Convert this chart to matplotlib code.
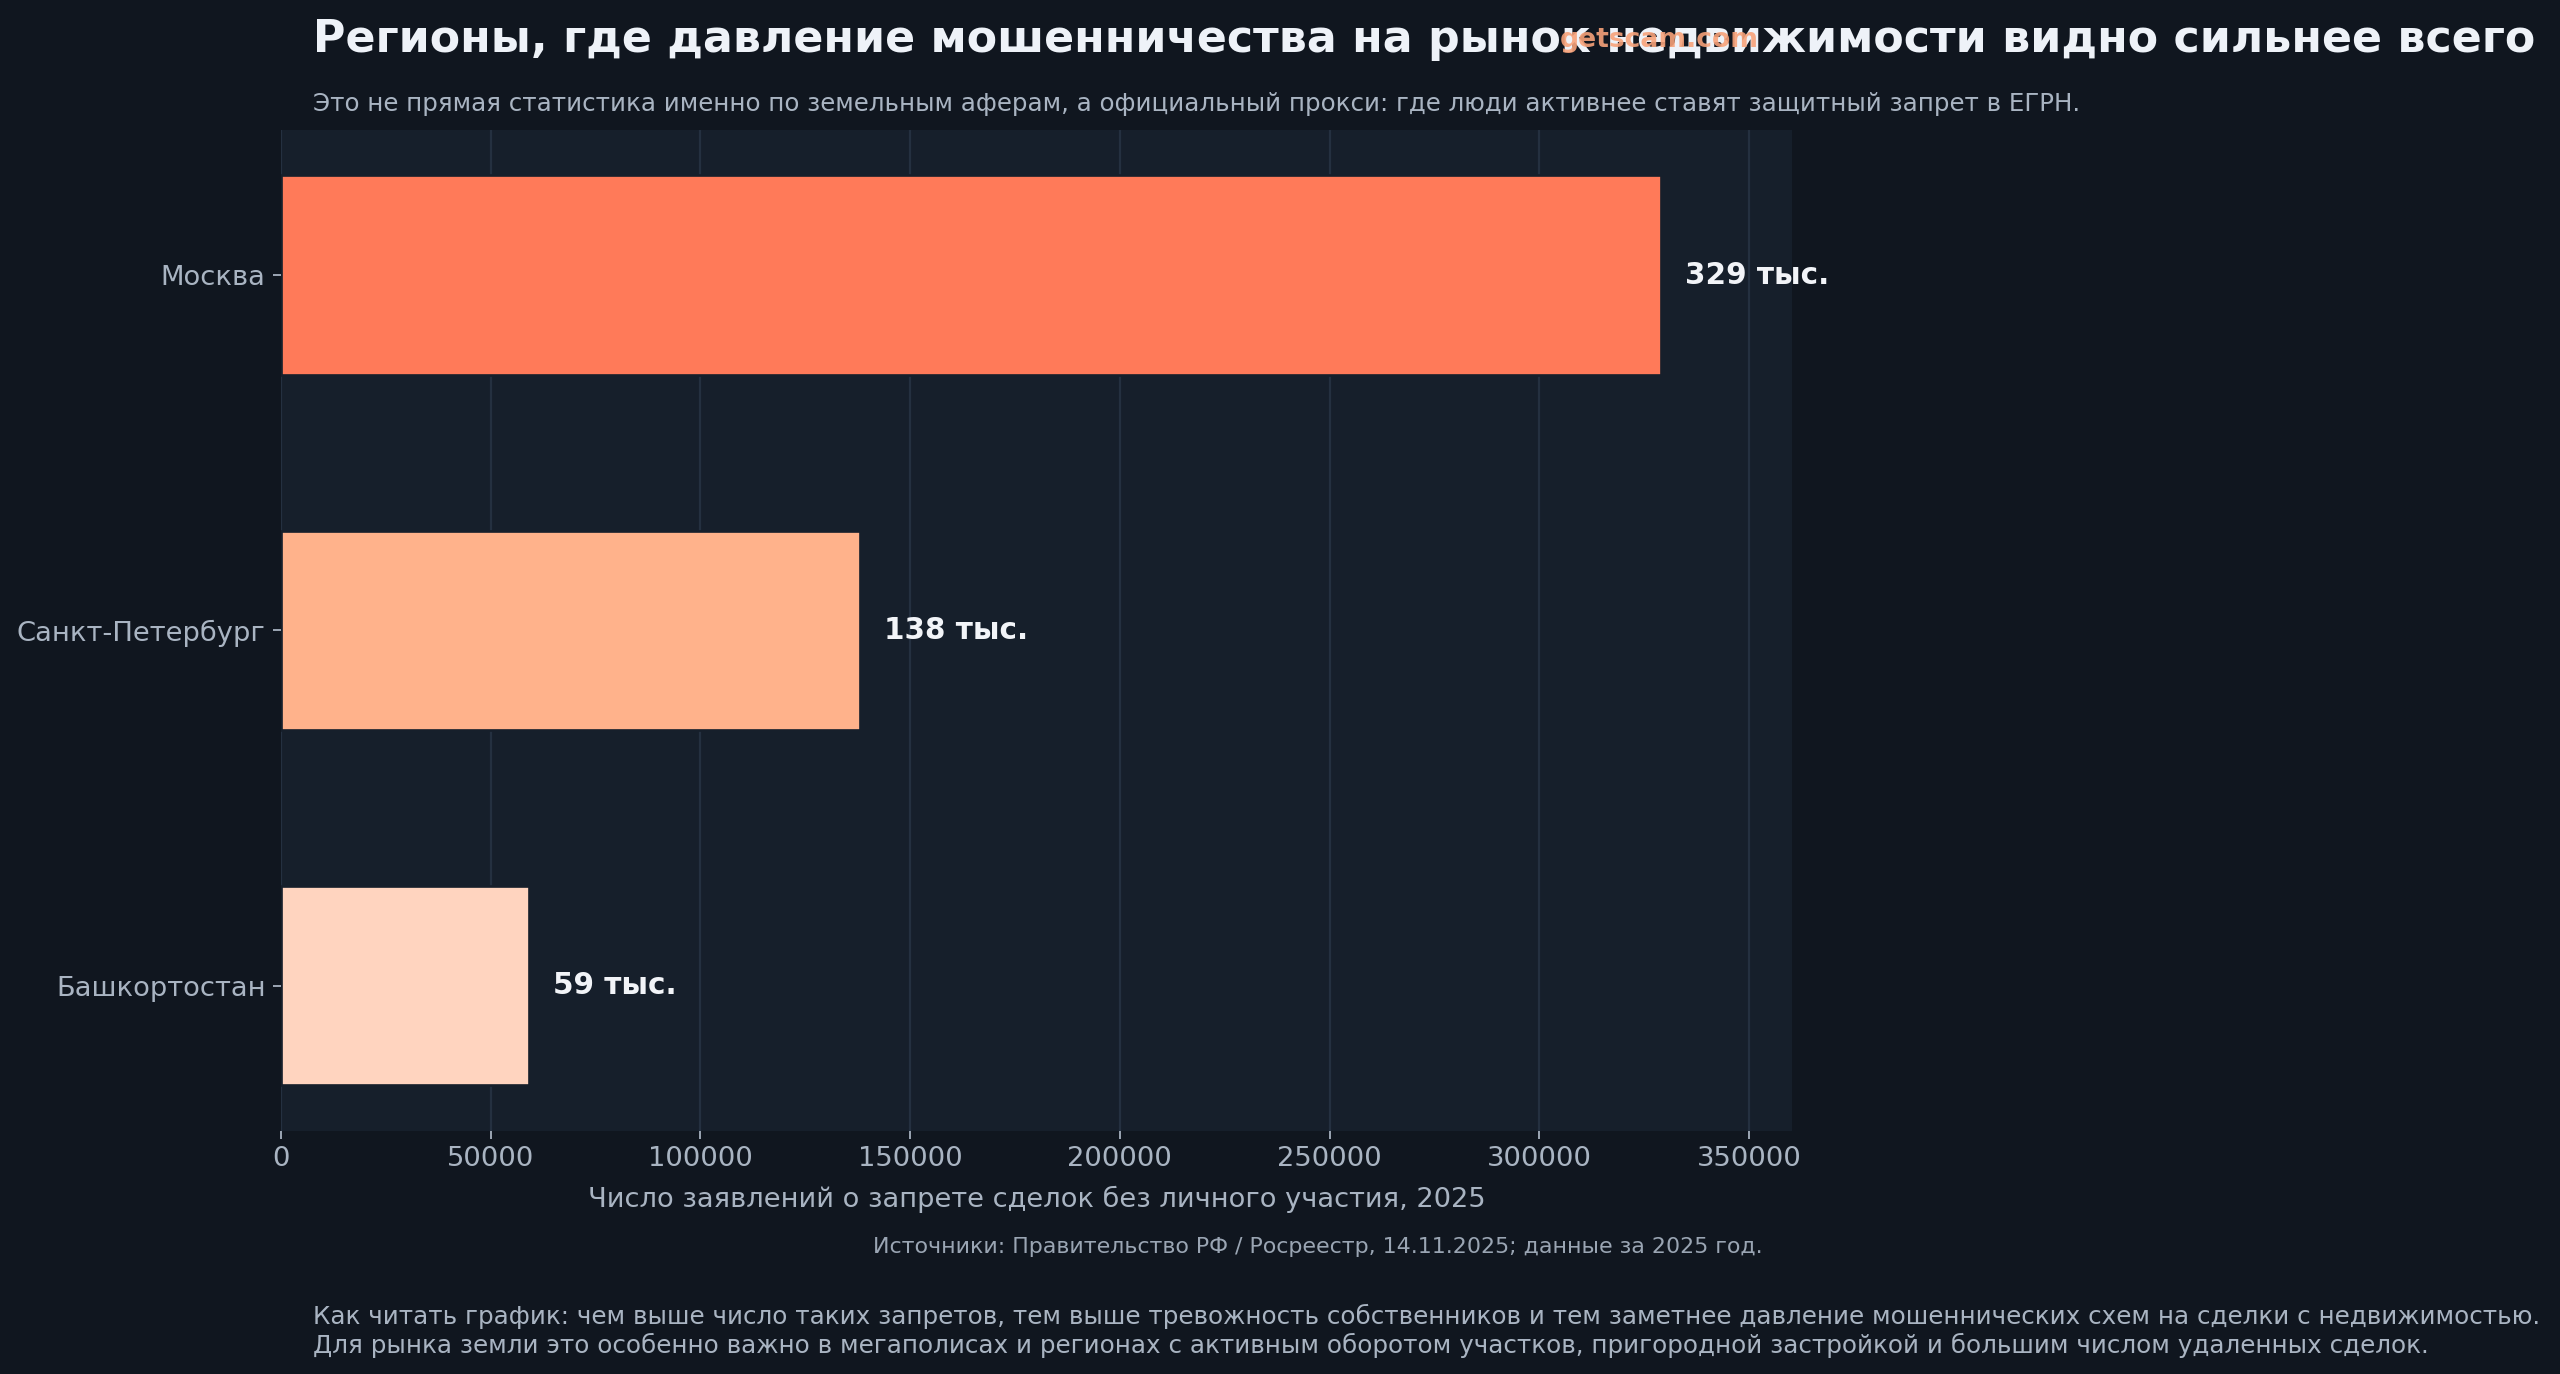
import matplotlib
matplotlib.use("Agg")
import matplotlib.pyplot as plt

regions = ["Москва", "Санкт-Петербург", "Башкортостан"]
requests = [329000, 138000, 59000]
value_labels = ["329 тыс.", "138 тыс.", "59 тыс."]
bar_colors = ["#ff7a59", "#ffb28b", "#ffd4bf"]

title = "Регионы, где давление мошенничества на рынок недвижимости видно сильнее всего"
subtitle = ("Это не прямая статистика именно по земельным аферам, а официальный прокси: "
            "где люди активнее ставят защитный запрет в ЕГРН.")
xlabel = "Число заявлений о запрете сделок без личного участия, 2025"
source = "Источники: Правительство РФ / Росреестр, 14.11.2025; данные за 2025 год."
note1 = ("Как читать график: чем выше число таких запретов, тем выше тревожность собственников "
         "и тем заметнее давление мошеннических схем на сделки с недвижимостью.")
note2 = ("Для рынка земли это особенно важно в мегаполисах и регионах с активным оборотом участков, "
         "пригородной застройкой и большим числом удаленных сделок.")

BG = "#10161f"
AX_BG = "#161f2b"
TXT = "#a9b4c2"

def main():
    fig = plt.figure(figsize=(16, 8.5875), dpi=160, facecolor=BG)
    ax = fig.add_axes([0.1098, 0.1769, 0.5902, 0.7285])
    ax.set_facecolor(AX_BG)

    bars = ax.barh(regions, requests, height=0.56, color=bar_colors,
                   edgecolor=AX_BG, linewidth=1.2, zorder=3)
    ax.invert_yaxis()
    ax.set_xlim(0, max(requests) * 1.095)
    ax.bar_label(bars, labels=value_labels, padding=11, fontsize=13.3,
                 fontweight="bold", color="#f2f4f8")

    ax.grid(axis="x", color="#243040", linewidth=1, zorder=0)
    ax.set_axisbelow(True)
    for s in ax.spines.values():
        s.set_visible(False)
    ax.tick_params(colors=TXT, labelsize=12.3, length=3.5)
    ax.set_xlabel(xlabel, color=TXT, fontsize=12.25, labelpad=6)

    fig.text(0.1223, 0.962, title, fontsize=19.95, fontweight="bold",
             color="#eef2f8", va="baseline")
    fig.text(0.648, 0.971, "getscam.com", fontsize=12, fontweight="bold",
             color="#f7a27a", alpha=0.9, ha="center", va="center", zorder=10)
    fig.text(0.1223, 0.9192, subtitle, fontsize=11.05, color=TXT, va="baseline")
    fig.text(0.6885, 0.088, source, fontsize=9.95, color="#9aa5b3",
             ha="right", va="baseline")
    fig.text(0.1223, 0.0364, note1, fontsize=11.1, color=TXT, va="baseline")
    fig.text(0.1223, 0.0155, note2, fontsize=11.1, color=TXT, va="baseline")

    fig.savefig("out.png", dpi=160, facecolor=BG)

main()
